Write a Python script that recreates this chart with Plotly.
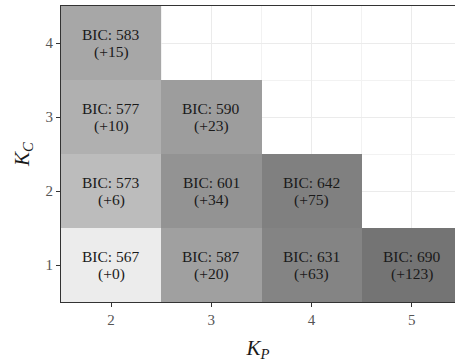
import math
import plotly.graph_objects as go

# Number of pure components (K_P) and compound components (K_C)
k_p = [2, 3, 4, 5]
k_c = [1, 2, 3, 4]

# Fitted models: K_P, K_C, BIC and the gap to the best BIC
model_kp = [2, 2, 2, 2, 3, 3, 3, 4, 4, 5]
model_kc = [1, 2, 3, 4, 1, 2, 3, 1, 2, 1]
model_bic = [567, 573, 577, 583, 587, 601, 590, 631, 642, 690]
model_gap = [0, 6, 10, 15, 20, 34, 23, 63, 75, 123]

z = [[None] * len(k_p) for _ in k_c]
for kp, kc, g in zip(model_kp, model_kc, model_gap):
    z[k_c.index(kc)][k_p.index(kp)] = math.log1p(g)

FONT = "Liberation Serif"

fig = go.Figure(
    go.Heatmap(
        x=k_p, y=k_c, z=z,
        colorscale=[[0, "#ececec"], [1, "#747474"]],
        zmin=0, zmax=math.log1p(max(model_gap)),
        showscale=False, hoverinfo="skip",
    )
)

# Two-line tile labels
for kp, kc, b, g in zip(model_kp, model_kc, model_bic, model_gap):
    for txt, shift in ((f"BIC: {b}", 9), (f"(+{g})", -9)):
        fig.add_annotation(
            x=kp, y=kc, text=txt, showarrow=False, yshift=shift,
            font=dict(family=FONT, size=15.5, color="#1a1a1a"),
        )

axis_common = dict(
    showline=True, mirror=True, linecolor="#333333", linewidth=1.1,
    ticks="outside", ticklen=4, tickwidth=1, tickcolor="#333333",
    tickfont=dict(family=FONT, size=15, color="#555555"),
    showgrid=True, gridcolor="#ebebeb", gridwidth=1,
    zeroline=False, tickmode="linear", tick0=1, dtick=1,
    minor=dict(dtick=0.5, tick0=0.5, showgrid=True, gridcolor="#f2f2f2", gridwidth=0.6, ticks=""),
)

fig.update_xaxes(
    range=[1.5, 5.432],
    title=dict(text="<i>K</i><sub><i>P</i></sub>", font=dict(family=FONT, size=21, color="#1a1a1a"), standoff=14),
    **axis_common,
)
fig.update_yaxes(
    range=[0.5, 4.5],
    title=dict(text="<i>K</i><sub><i>C</i></sub>", font=dict(family=FONT, size=21, color="#1a1a1a"), standoff=10),
    **axis_common,
)

fig.update_layout(
    width=455, height=362,
    margin=dict(l=61, r=0, t=6, b=60, autoexpand=False),
    plot_bgcolor="white", paper_bgcolor="white",
)

fig.write_html("out.html")
